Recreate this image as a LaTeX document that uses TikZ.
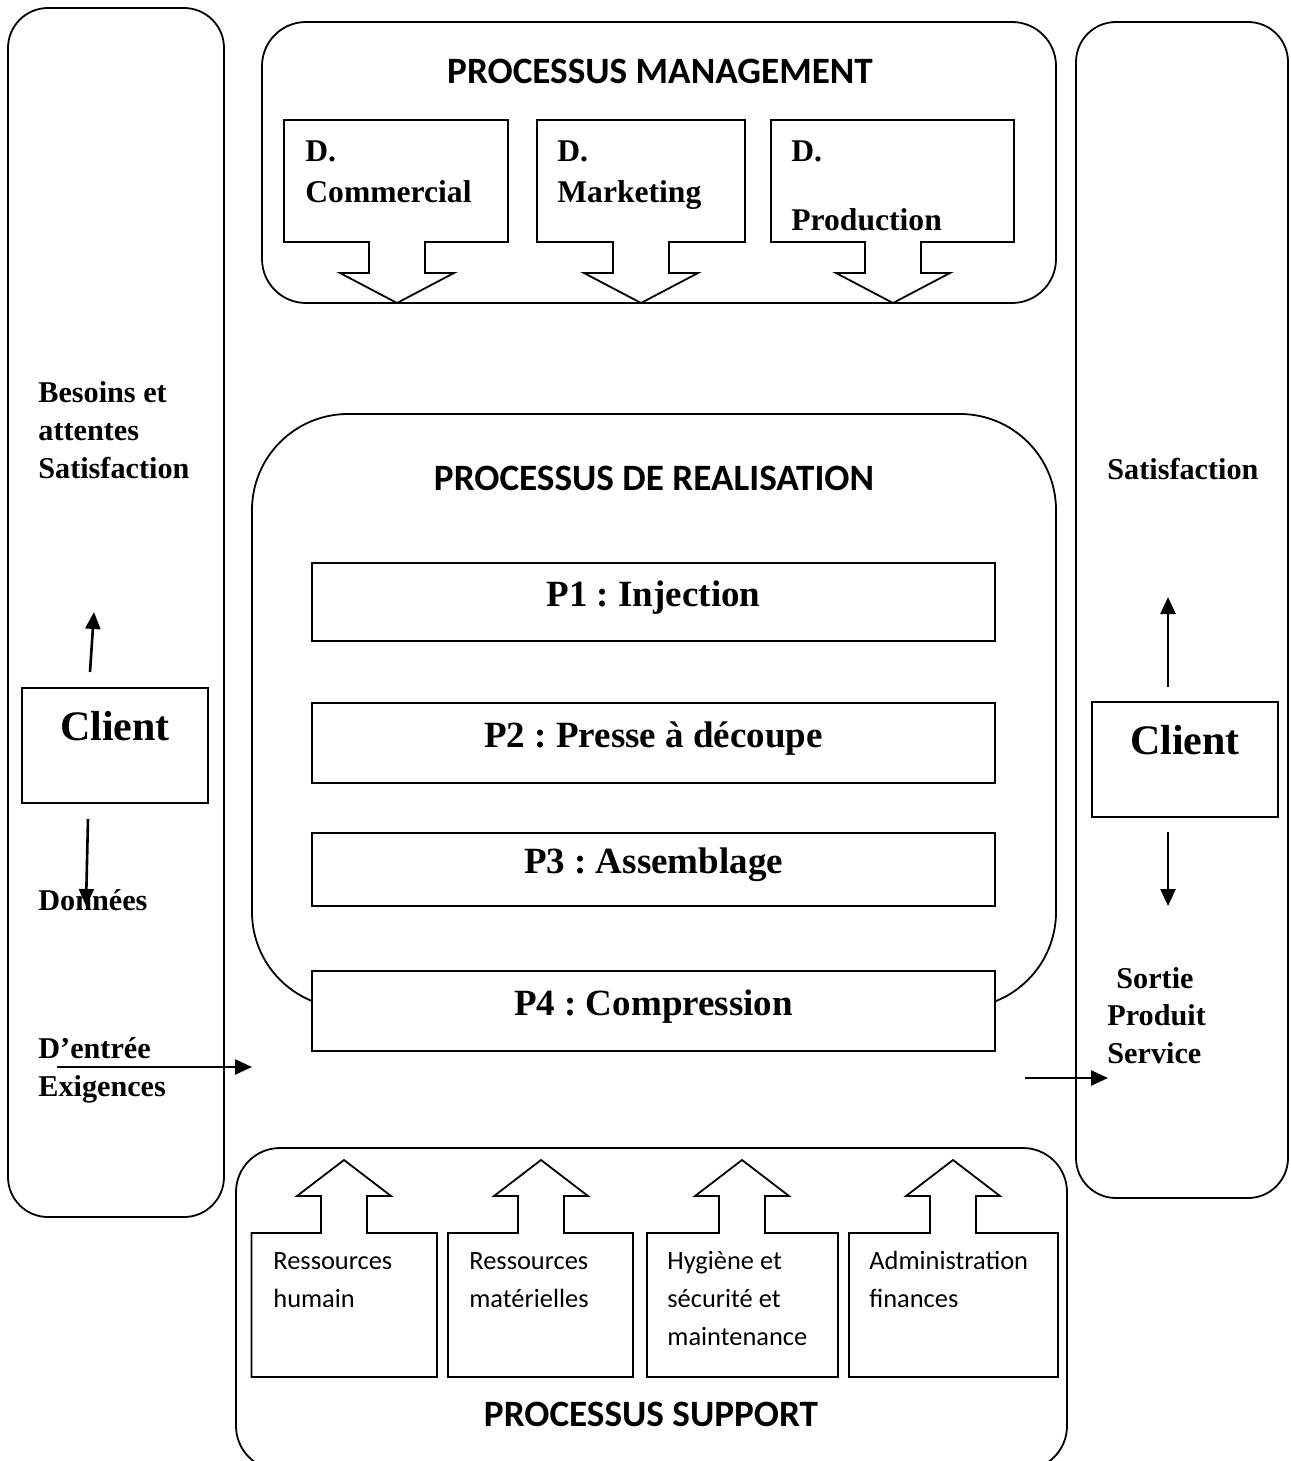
\documentclass[tikz,border=0pt]{standalone}
\usepackage{fontspec}
\setmainfont{Liberation Serif}
\newfontfamily\calfont{Carlito}
\usetikzlibrary{arrows.meta}
\frenchspacing

% box with a hollow arrow pointing down: left, right, top, bottom, arrow x
\newcommand\mgmtbox[5]{%
  \draw[box] (#1,#3) -- (#2,#3) -- (#2,#4) -- ({#5+28},#4) -- ({#5+28},273)
    -- ({#5+57},273) -- (#5,303) -- ({#5-57},273) -- ({#5-28},273)
    -- ({#5-28},#4) -- (#1,#4) -- cycle;}
% box with a hollow arrow pointing up: left, right, top, bottom, arrow x
\newcommand\suppbox[5]{%
  \draw[box] (#1,#3) -- ({#5-23},#3) -- ({#5-23},1196) -- ({#5-47},1196)
    -- (#5,1160) -- ({#5+47},1196) -- ({#5+23},1196) -- ({#5+23},#3)
    -- (#2,#3) -- (#2,#4) -- (#1,#4) -- cycle;}

\begin{document}
\begin{tikzpicture}[x=0.5pt,y=-0.5pt,
  frame/.style={draw=black, line width=0.9pt},
  box/.style={draw=black, line width=0.9pt, fill=white},
  arr/.style={-{Triangle[length=8.5pt,width=7.5pt]}, line width=1.3pt},
  ttl/.style={font=\calfont\bfseries\fontsize{18.6}{22}\selectfont, inner sep=0pt},
  lbl/.style={font=\bfseries\fontsize{15.8}{19}\selectfont, inner sep=0pt, anchor=base west},
  side/.style={font=\bfseries\fontsize{15.1}{19}\selectfont, inner sep=0pt, anchor=base west},
  sup/.style={font=\calfont\fontsize{13.2}{16}\selectfont, inner sep=0pt, anchor=base west},
  pbox/.style={draw=black, line width=0.9pt, fill=white, minimum width=341.5pt,
    font=\bfseries\fontsize{18.5}{22}\selectfont, text height=0.7em, text depth=0.3em},
  cbox/.style={draw=black, line width=0.9pt, minimum width=93pt, minimum height=57.5pt},
  ctxt/.style={font=\bfseries\fontsize{21}{25}\selectfont, inner sep=0pt}
]
\useasboundingbox (0,0) rectangle (1290,1461);
\clip (0,0) rectangle (1290,1461);

% client columns
\draw[frame, rounded corners=20pt] (8,8) rectangle (224,1217);
\draw[frame, rounded corners=20pt] (1076,22) rectangle (1288,1198);

% management process
\draw[frame, rounded corners=22pt] (262,22) rectangle (1056,303);
\node[ttl] (mtitle) at (660,71) {PROCESSUS MANAGEMENT};
\mgmtbox{284}{508}{120}{242}{397}
\mgmtbox{537}{745}{120}{242}{641}
\mgmtbox{771}{1014}{120}{242}{893}
\node[lbl] (dc1) at (305,162) {D.};
\node[lbl] (dc2) at (305,202) {Commercial};
\node[lbl] (dm1) at (557,162) {D.};
\node[lbl] (dm2) at (557,202) {Marketing};
\node[lbl] (dp1) at (791,162) {D.};
\node[lbl] (dp2) at (791,230) {Production};

% realisation process
\draw[frame, rounded corners=48pt] (252,414) rectangle (1056,1008);
\node[ttl] (rtitle) at (654,478) {PROCESSUS DE REALISATION};
\node[pbox, minimum height=39pt] (p1) at (653.5,602) {P1 : Injection};
\node[pbox, minimum height=40pt] (p2) at (653.5,743) {P2 : Presse à découpe};
\node[pbox, minimum height=36.5pt] (p3) at (653.5,869.5) {P3 : Assemblage};
\node[pbox, minimum height=40pt] (p4) at (653.5,1011) {P4 : Compression};

% support process
\draw[frame, rounded corners=22pt] (236,1148) rectangle (1067,1470);
\suppbox{251.5}{437}{1233}{1377}{344}
\suppbox{448}{633}{1233}{1377}{541}
\suppbox{647}{838}{1233}{1377}{742}
\suppbox{849}{1058}{1233}{1377}{953}
\node[sup] (s1a) at (273,1269) {Ressources};
\node[sup] (s1b) at (273,1307) {humain};
\node[sup] (s2a) at (469,1269) {Ressources};
\node[sup] (s2b) at (469,1307) {matérielles};
\node[sup] (s3a) at (667,1269) {Hygiène et};
\node[sup] (s3b) at (667,1307) {sécurité et};
\node[sup] (s3c) at (667,1345) {maintenance};
\node[sup] (s4a) at (869,1269) {Administration};
\node[sup] (s4b) at (869,1307) {finances};
\node[ttl] (stitle) at (651,1414) {PROCESSUS SUPPORT};

% left client column
\node[side] (la1) at (38,402) {Besoins et};
\node[side] (la2) at (38,440) {attentes};
\node[side] (la3) at (38,478) {Satisfaction};
\node[cbox] (lc) at (115,745.5) {};
\node[ctxt] (lct) at (115,726) {Client};
\node[side] (ld) at (38,910) {Données};
\node[side] (le1) at (38,1058) {D’entrée};
\node[side] (le2) at (38,1096) {Exigences};
\coordinate (lu0) at (90,672);
\coordinate (lu1) at (94,612);
\coordinate (ld0) at (88,819);
\coordinate (ld1) at (86,906);
\coordinate (lh0) at (57,1067);
\coordinate (lh1) at (252,1067);
\draw[arr] (lu0) -- (lu1);
\draw[arr] (ld0) -- (ld1);
\draw[arr] (lh0) -- (lh1);

% right client column
\node[side] (ra1) at (1107,479) {Satisfaction};
\node[cbox] (rc) at (1185,759.5) {};
\node[ctxt] (rct) at (1185,740) {Client};
\node[side] (rs1) at (1116,988) {Sortie};
\node[side] (rs2) at (1107,1025) {Produit};
\node[side] (rs3) at (1107,1063) {Service};
\coordinate (ru0) at (1168,687);
\coordinate (ru1) at (1168,597);
\coordinate (rd0) at (1168,832);
\coordinate (rd1) at (1168,906);
\coordinate (rh0) at (1025,1078);
\coordinate (rh1) at (1108,1078);
\draw[arr] (ru0) -- (ru1);
\draw[arr] (rd0) -- (rd1);
\draw[arr] (rh0) -- (rh1);
\end{tikzpicture}
\end{document}
